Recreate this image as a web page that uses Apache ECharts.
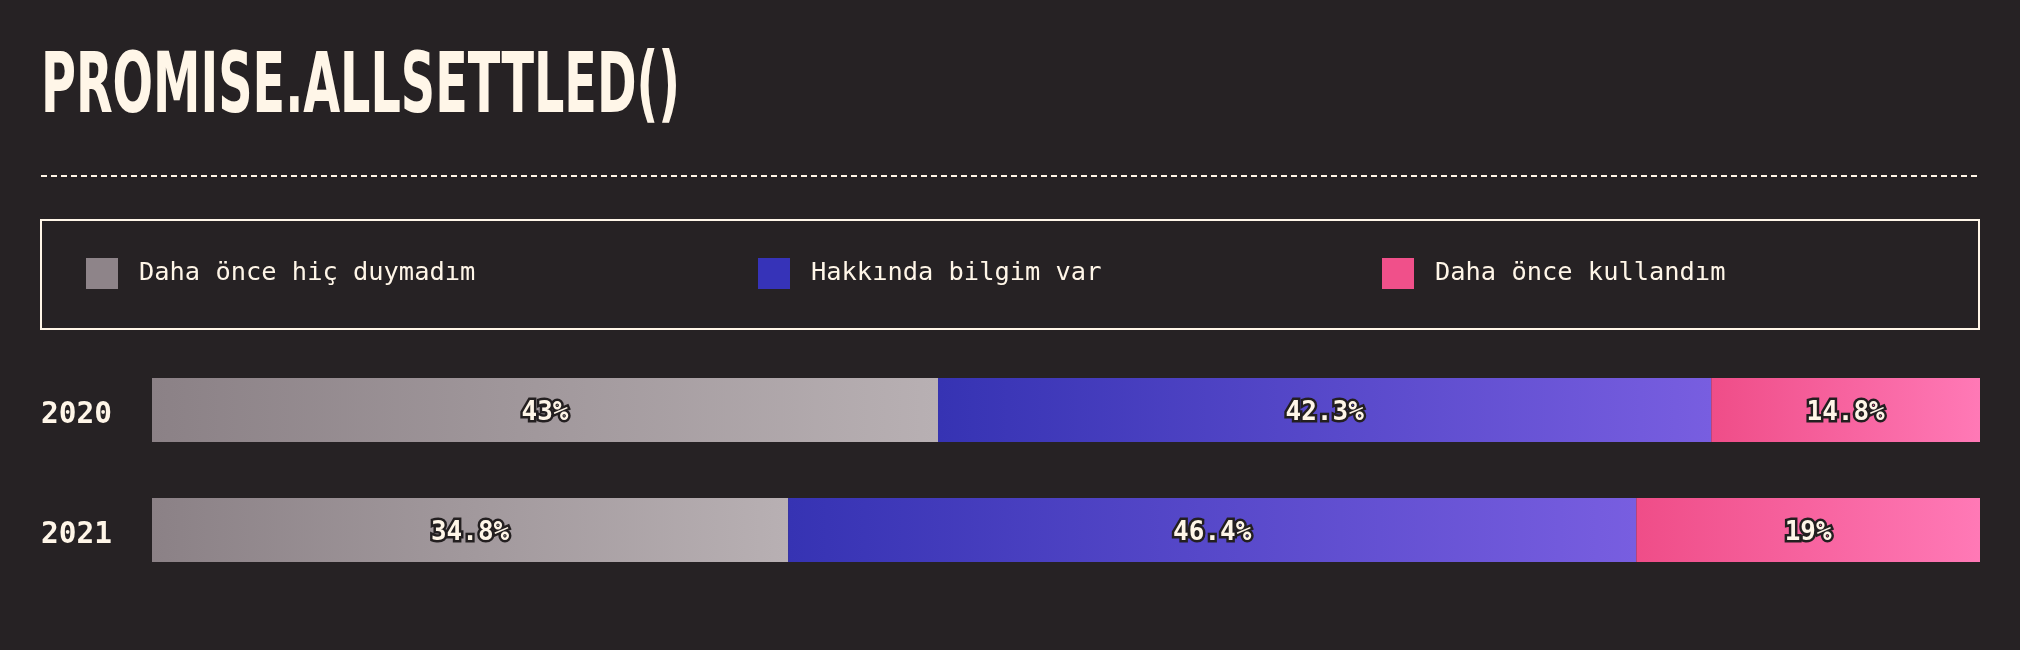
<!DOCTYPE html>
<html>
<head>
<meta charset="utf-8">
<style>
  html, body { margin: 0; padding: 0; background: #262224; }
  #chart { width: 2020px; height: 650px; }
</style>
<script src="https://cdn.jsdelivr.net/npm/echarts@6/dist/echarts.min.js"></script>
</head>
<body>
<div id="chart"></div>
<script>
const titleText = 'PROMISE.ALLSETTLED()';
const years = ['2020', '2021'];
const seriesNames = ['Daha önce hiç duymadım', 'Hakkında bilgim var', 'Daha önce kullandım'];
const neverHeard = [43, 34.8];
const knowAbout = [42.3, 46.4];
const used = [14.8, 19];

const BG = '#262224';
const CREAM = '#fff6e8';
const swatch = ['#8e8489', '#3633b8', '#f0508a'];
const gradStops = [
  ['#8b8186', '#b8b0b3'],
  ['#3633b3', '#785ee0'],
  ['#ef4d88', '#ff79b6']
];

function grad(i) {
  return new echarts.graphic.LinearGradient(0, 0, 1, 0, [
    { offset: 0, color: gradStops[i][0] },
    { offset: 1, color: gradStops[i][1] }
  ]);
}

const titleFont = "bold 84px 'Liberation Sans Narrow', 'DejaVu Sans Condensed', sans-serif";
const cv = document.createElement('canvas').getContext('2d');
cv.font = titleFont;
const tw = cv.measureText(titleText).width;
const sx = 639 / tw;

const chart = echarts.init(document.getElementById('chart'), null, { renderer: 'canvas' });

const dataArr = [neverHeard, knowAbout, used];
const legendLefts = [86, 758, 1382];
const MONO = "'DejaVu Sans Mono', 'Liberation Mono', monospace";

const option = {
  backgroundColor: BG,
  animation: false,
  graphic: [
    {
      type: 'text',
      x: 41, y: 90,
      scaleX: sx, scaleY: 1.0,
      originX: 0, originY: 0,
      style: {
        text: titleText,
        font: titleFont,
        fill: CREAM,
        verticalAlign: 'middle',
        align: 'left'
      }
    },
    {
      type: 'line',
      shape: { x1: 41, y1: 176, x2: 1980, y2: 176 },
      style: { stroke: CREAM, lineWidth: 2, lineDash: [6, 4] }
    },
    {
      type: 'rect',
      shape: { x: 41, y: 220, width: 1938, height: 109 },
      style: { fill: 'none', stroke: CREAM, lineWidth: 2 }
    }
  ],
  legend: seriesNames.map((n, i) => ({
    data: [{ name: n, itemStyle: { color: swatch[i] } }],
    left: legendLefts[i],
    top: 258,
    padding: 0,
    icon: 'rect',
    itemWidth: 32,
    itemHeight: 31,
    selectedMode: false,
    textStyle: {
      color: CREAM,
      fontFamily: MONO,
      fontSize: 25.4,
      padding: [0, 0, 0, 16]
    }
  })),
  grid: { left: 152, right: 40, top: 350, bottom: 60, containLabel: false },
  xAxis: { type: 'value', min: 0, max: 100, show: false },
  yAxis: {
    type: 'category',
    data: years,
    inverse: true,
    axisLine: { show: false },
    axisTick: { show: false },
    splitLine: { show: false },
    axisLabel: {
      align: 'left',
      margin: 111,
      formatter: '{y|{value}}',
      rich: {
        y: {
          color: CREAM,
          fontFamily: MONO,
          fontWeight: 'bold',
          fontSize: 29.5,
          padding: [10, 0, 0, 0]
        }
      }
    }
  },
  series: seriesNames.map((n, i) => ({
    name: n,
    type: 'bar',
    stack: 'total',
    barWidth: 64,
    clip: true,
    data: dataArr[i],
    itemStyle: { color: grad(i) },
    label: {
      show: true,
      position: 'inside',
      offset: [0, 3],
      formatter: '{c}%',
      color: CREAM,
      fontFamily: MONO,
      fontWeight: 'bold',
      fontSize: 26,
      textBorderColor: '#231f20',
      textBorderWidth: 5
    }
  }))
};

chart.setOption(option);
</script>
</body>
</html>
